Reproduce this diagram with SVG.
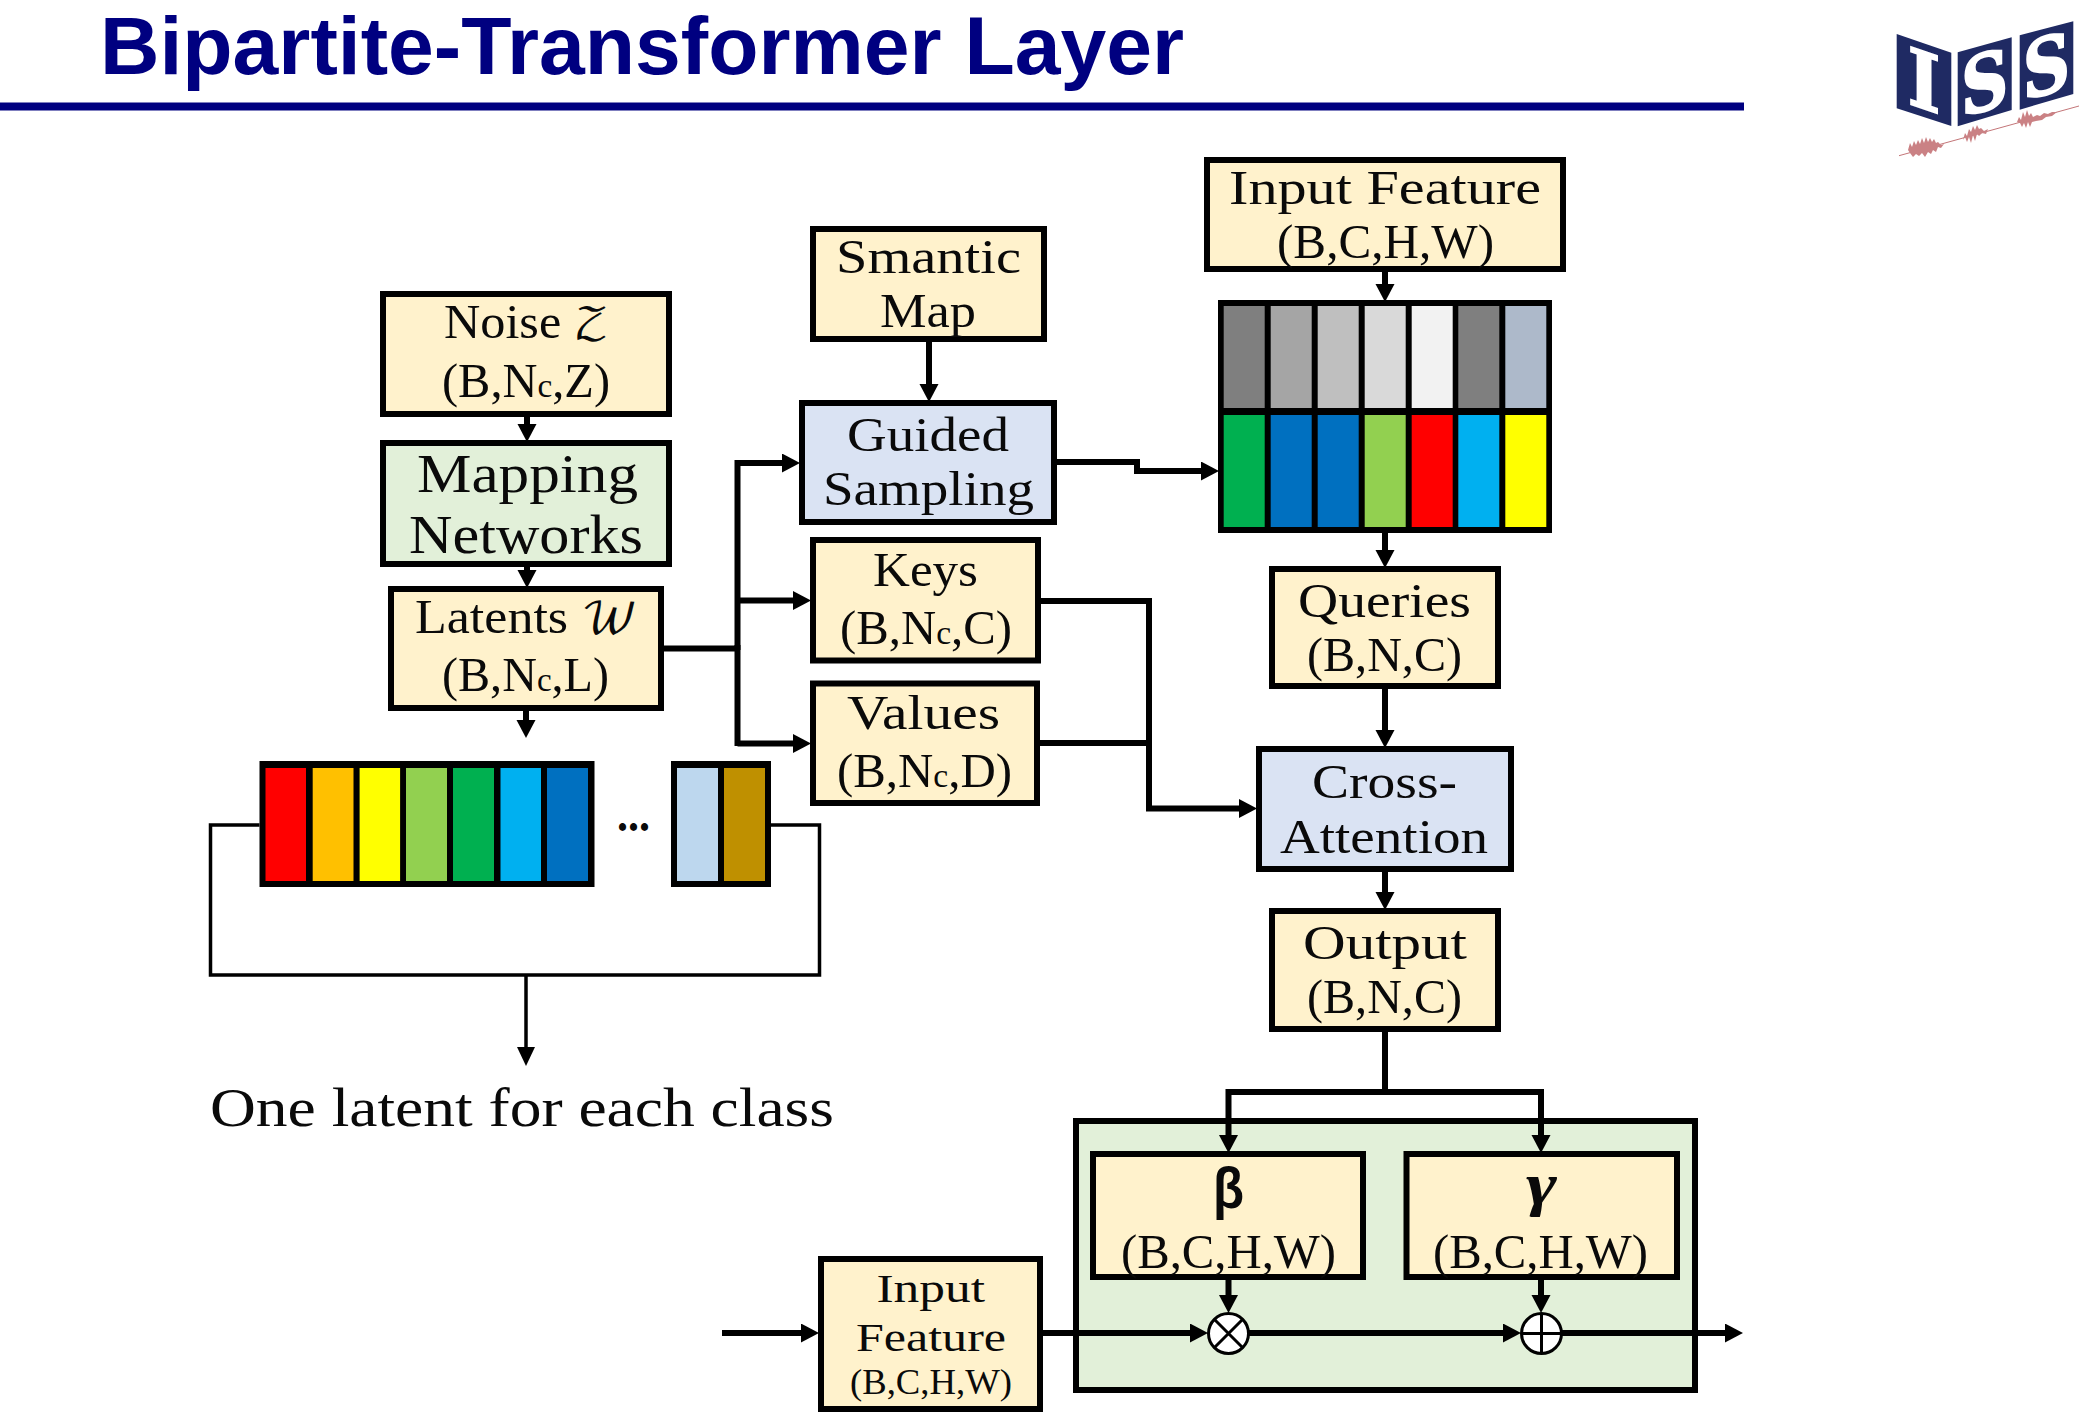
<svg xmlns="http://www.w3.org/2000/svg" width="2096" height="1420" viewBox="0 0 2096 1420">
<style>
.t{font-family:"Liberation Serif","DejaVu Serif",serif;font-size:48px;fill:#0a0a0a}
.l{font-size:54px}.s{font-size:40px}.xs{font-size:36px}
.sub{font-size:33px}.m{font-family:"DejaVu Math TeX Gyre","DejaVu Serif",serif;font-size:42px}
.b{stroke:#000;stroke-width:6}
.y{fill:#fff2cc}.g{fill:#e2f0d9}.u{fill:#dae3f3}
.c{fill:none;stroke:#000;stroke-width:6}
.h{marker-end:url(#a)}
.thin{stroke-width:3.5}
.logo{font-family:"DejaVu Serif",serif;font-weight:bold;font-size:82px;fill:#fff;stroke:#fff;stroke-width:2;text-anchor:middle}
.op{fill:#fff;stroke:#000;stroke-width:3}
</style>
<defs>
<marker id="a" markerUnits="userSpaceOnUse" markerWidth="20" markerHeight="20" refX="2" refY="9.500" orient="auto"><path d="M0,0L18,9.500L0,19Z" fill="#000"/></marker>
<marker id="a2" markerUnits="userSpaceOnUse" markerWidth="20" markerHeight="20" refX="2" refY="9" orient="auto"><path d="M0,0L19,9L0,18Z" fill="#000"/></marker>
</defs>
<rect width="2096" height="1420" fill="#fff"/>

<g id="title">
<text x="100" y="74" textLength="1084" lengthAdjust="spacingAndGlyphs" style="font-family:'Liberation Sans',Arial,sans-serif;font-weight:bold;font-size:82px;fill:#000080">Bipartite-Transformer Layer</text>
<rect x="0" y="102.500" width="1744" height="8" fill="#000080"/>
</g>

<g id="logo">
<path d="M1896.700,34L1951.300,52.700V126L1896.700,108.300Z" fill="#1f2a63"/>
<path d="M1957.700,52.300L2011.700,37.300V110L1957.700,126.300Z" fill="#1f2a63"/>
<path d="M2019.700,35.300L2073.300,21.300V94L2019.700,109.700Z" fill="#1f2a63"/>
<text class="logo" transform="translate(1924,80) skewY(18.900) scale(.85,.96)" y="30">I</text>
<text class="logo" transform="translate(1984.700,81.500) skewY(-15.500) scale(.8,.96)" y="30">S</text>
<text class="logo" transform="translate(2046.500,65) skewY(-15.500) scale(.8,.96)" y="30">S</text>
<g opacity=".75">
<path d="M1899,155.700L2079,106" fill="none" stroke="#b0484c" stroke-width="1"/>
<path d="M1908,150L1910,143 1912,147 1914,141 1916,145 1918,140 1920,144 1922,138 1924,143 1926,137 1928,142 1930,138 1932,142 1934,139 1936,143 1938,142 1941,145 1944,144 1941,148 1938,147 1936,152 1933,150 1931,154 1928,152 1925,157 1922,153 1919,156 1916,154 1913,157 1910,153Z" fill="#b9585c"/>
<path d="M1963,140L1965,133 1967,136 1969,129 1971,132 1973,126 1975,130 1977,125 1979,129 1981,128 1984,131 1988,129 1986,134 1982,133 1979,136 1977,134 1975,141 1973,135 1971,143 1969,137 1967,142 1965,137Z" fill="#b9585c"/>
<path d="M2017,122L2019,117 2021,120 2023,112 2025,117 2027,110 2029,116 2031,113 2033,117 2037,115 2040,116 2044,113 2048,114 2052,112 2057,112 2052,116 2046,117 2042,120 2036,121 2032,122 2030,127 2028,122 2026,128 2024,123 2022,127 2020,123Z" fill="#b9585c"/>
</g>
</g>

<g id="green-panel"><rect class="b g" x="1076" y="1121" width="619" height="269"/></g>

<g id="noise"><rect class="b y" x="383" y="294" width="286" height="120"/>
<text class="t" x="444" y="338" textLength="165" lengthAdjust="spacingAndGlyphs">Noise <tspan class="m">𝒵</tspan></text>
<text class="t" x="442" y="397" textLength="168" lengthAdjust="spacingAndGlyphs">(B,N<tspan class="sub">c</tspan>,Z)</text></g>

<g id="mapping"><rect class="b g" x="383" y="443" width="286" height="121"/>
<text class="t l" x="417" y="492" textLength="221" lengthAdjust="spacingAndGlyphs">Mapping</text>
<text class="t l" x="409" y="553" textLength="234" lengthAdjust="spacingAndGlyphs">Networks</text></g>

<g id="latents"><rect class="b y" x="391" y="589" width="270" height="119"/>
<text class="t" x="415" y="633" textLength="223" lengthAdjust="spacingAndGlyphs">Latents <tspan class="m">𝒲</tspan></text>
<text class="t" x="442" y="691" textLength="167" lengthAdjust="spacingAndGlyphs">(B,N<tspan class="sub">c</tspan>,L)</text></g>

<g id="latent-strip">
<rect x="259.500" y="761" width="335" height="126" fill="#000"/>
<rect x="265.500" y="768" width="40.500" height="113" fill="#f00"/>
<rect x="312.700" y="768" width="40.800" height="113" fill="#ffc000"/>
<rect x="359.600" y="768" width="40.500" height="113" fill="#ff0"/>
<rect x="406" y="768" width="41" height="113" fill="#92d050"/>
<rect x="453" y="768" width="41" height="113" fill="#00b050"/>
<rect x="500.500" y="768" width="40.500" height="113" fill="#00b0f0"/>
<rect x="547" y="768" width="41" height="113" fill="#0070c0"/>
<text class="t" x="617" y="831" textLength="33" lengthAdjust="spacingAndGlyphs" style="font-weight:bold">...</text>
<rect x="671" y="761" width="100" height="126" fill="#000"/>
<rect x="677" y="768" width="41" height="113" fill="#bdd7ee"/>
<rect x="724" y="768" width="41" height="113" fill="#bf9000"/>
</g>

<g id="class-label"><text class="t l" x="210" y="1126" textLength="624" lengthAdjust="spacingAndGlyphs">One latent for each class</text></g>

<g id="semantic"><rect class="b y" x="813" y="229" width="231" height="110"/>
<text class="t" x="836" y="272.500" textLength="185" lengthAdjust="spacingAndGlyphs">Smantic</text>
<text class="t" x="880" y="327" textLength="96" lengthAdjust="spacingAndGlyphs">Map</text></g>

<g id="guided"><rect class="b u" x="802" y="403" width="252" height="119"/>
<text class="t" x="847" y="451" textLength="162" lengthAdjust="spacingAndGlyphs">Guided</text>
<text class="t" x="823" y="504.500" textLength="211" lengthAdjust="spacingAndGlyphs">Sampling</text></g>

<g id="keys"><rect class="b y" x="813" y="540" width="225" height="120.500"/>
<text class="t" x="873" y="585.500" textLength="105" lengthAdjust="spacingAndGlyphs">Keys</text>
<text class="t" x="840" y="644" textLength="172" lengthAdjust="spacingAndGlyphs">(B,N<tspan class="sub">c</tspan>,C)</text></g>

<g id="values"><rect class="b y" x="813" y="683.500" width="224" height="119.500"/>
<text class="t" x="847" y="729" textLength="153" lengthAdjust="spacingAndGlyphs">Values</text>
<text class="t" x="837" y="787" textLength="175" lengthAdjust="spacingAndGlyphs">(B,N<tspan class="sub">c</tspan>,D)</text></g>

<g id="input-top"><rect class="b y" x="1207" y="160" width="356" height="109"/>
<text class="t" x="1229" y="203.500" textLength="312" lengthAdjust="spacingAndGlyphs">Input Feature</text>
<text class="t" x="1277" y="258" textLength="217" lengthAdjust="spacingAndGlyphs">(B,C,H,W)</text></g>

<g id="feature-grid">
<rect x="1218" y="300" width="334" height="233" fill="#000"/>
<rect x="1223.700" y="306" width="41" height="102" fill="#7f7f7f"/>
<rect x="1270.700" y="306" width="41" height="102" fill="#a5a5a5"/>
<rect x="1317.700" y="306" width="41" height="102" fill="#bfbfbf"/>
<rect x="1364.700" y="306" width="41" height="102" fill="#d9d9d9"/>
<rect x="1411.700" y="306" width="41" height="102" fill="#f2f2f2"/>
<rect x="1458.300" y="306" width="41" height="102" fill="#7f7f7f"/>
<rect x="1505.300" y="306" width="41" height="102" fill="#adb9ca"/>
<rect x="1223.700" y="415" width="41" height="112" fill="#00b050"/>
<rect x="1270.700" y="415" width="41" height="112" fill="#0070c0"/>
<rect x="1317.700" y="415" width="41" height="112" fill="#0070c0"/>
<rect x="1364.700" y="415" width="41" height="112" fill="#92d050"/>
<rect x="1411.700" y="415" width="41" height="112" fill="#f00"/>
<rect x="1458.300" y="415" width="41" height="112" fill="#00b0f0"/>
<rect x="1505.300" y="415" width="41" height="112" fill="#ff0"/>
</g>

<g id="queries"><rect class="b y" x="1272" y="569" width="226" height="117"/>
<text class="t" x="1298" y="617" textLength="173" lengthAdjust="spacingAndGlyphs">Queries</text>
<text class="t" x="1307" y="671" textLength="155" lengthAdjust="spacingAndGlyphs">(B,N,C)</text></g>

<g id="cross-attention"><rect class="b u" x="1259" y="749" width="252" height="120"/>
<text class="t" x="1312" y="798" textLength="145" lengthAdjust="spacingAndGlyphs">Cross-</text>
<text class="t" x="1280" y="853" textLength="208" lengthAdjust="spacingAndGlyphs">Attention</text></g>

<g id="output"><rect class="b y" x="1272" y="911" width="226" height="118"/>
<text class="t" x="1303" y="959" textLength="164" lengthAdjust="spacingAndGlyphs">Output</text>
<text class="t" x="1307" y="1012.500" textLength="155" lengthAdjust="spacingAndGlyphs">(B,N,C)</text></g>

<g id="beta"><rect class="b y" x="1093" y="1154" width="270" height="123"/>
<text x="1213" y="1208" textLength="31" lengthAdjust="spacingAndGlyphs" style="font-family:'Liberation Sans',sans-serif;font-weight:bold;font-size:58px;fill:#0a0a0a">β</text>
<text class="t" x="1121" y="1268" textLength="215" lengthAdjust="spacingAndGlyphs">(B,C,H,W)</text></g>

<g id="gamma"><rect class="b y" x="1406.500" y="1154" width="270.500" height="123"/>
<text class="t" x="1526" y="1204" textLength="31" lengthAdjust="spacingAndGlyphs" style="font-weight:bold;font-style:italic;font-size:60px">γ</text>
<text class="t" x="1433" y="1268" textLength="215" lengthAdjust="spacingAndGlyphs">(B,C,H,W)</text></g>

<g id="input-bottom"><rect class="b y" x="821" y="1259" width="219" height="150"/>
<text class="t s" x="876.500" y="1302" textLength="108.500" lengthAdjust="spacingAndGlyphs">Input</text>
<text class="t s" x="856" y="1351" textLength="150" lengthAdjust="spacingAndGlyphs">Feature</text>
<text class="t xs" x="850" y="1394" textLength="162" lengthAdjust="spacingAndGlyphs">(B,C,H,W)</text></g>

<g id="connectors">
<path class="c h" d="M527,417V426"/>
<path class="c h" d="M527,567V572"/>
<path class="c h" d="M526,711V722"/>
<path class="c" d="M664,648.500H738"/>
<path class="c" d="M737.500,645V746"/>
<path class="c h" d="M737.500,650V463H784"/>
<path class="c h" d="M737.500,600.500H795"/>
<path class="c h" d="M737.500,743.500H795"/>
<path class="c h" d="M929,342V386"/>
<path class="c h" d="M1057,462H1137V471H1203"/>
<path class="c h" d="M1041,601H1149V808.500H1241"/>
<path class="c" d="M1040,743H1149"/>
<path class="c h" d="M1385,272V286"/>
<path class="c h" d="M1385,533V552"/>
<path class="c h" d="M1385,689V732"/>
<path class="c h" d="M1385,872V894"/>
<path class="c" d="M1385,1032V1092"/>
<path class="c h" d="M1385,1092H1228.500V1137"/>
<path class="c h" d="M1385,1092H1541V1137"/>
<path class="c h" d="M1228.500,1280V1297"/>
<path class="c h" d="M1541,1280V1297"/>
<path class="c h" d="M722,1333H803"/>
<path class="c h" d="M1043,1333H1192"/>
<path class="c h" d="M1249,1333H1505"/>
<path class="c h" d="M1562,1333H1727"/>
<path class="c thin" d="M259.500,825H210.500V975H819.500V825H771"/>
<path class="c thin" style="marker-end:url(#a2)" d="M526,975V1049"/>
</g>

<g id="multiply"><circle class="op" cx="1228.500" cy="1333.500" r="20"/>
<path d="M1214.500,1319.500L1242.500,1347.500M1242.500,1319.500L1214.500,1347.500" stroke="#000" stroke-width="3"/></g>
<g id="add"><circle class="op" cx="1541.500" cy="1333.500" r="20"/>
<path d="M1521.500,1333.500H1561.500M1541.500,1313.500V1353.500" stroke="#000" stroke-width="3"/></g>
</svg>
